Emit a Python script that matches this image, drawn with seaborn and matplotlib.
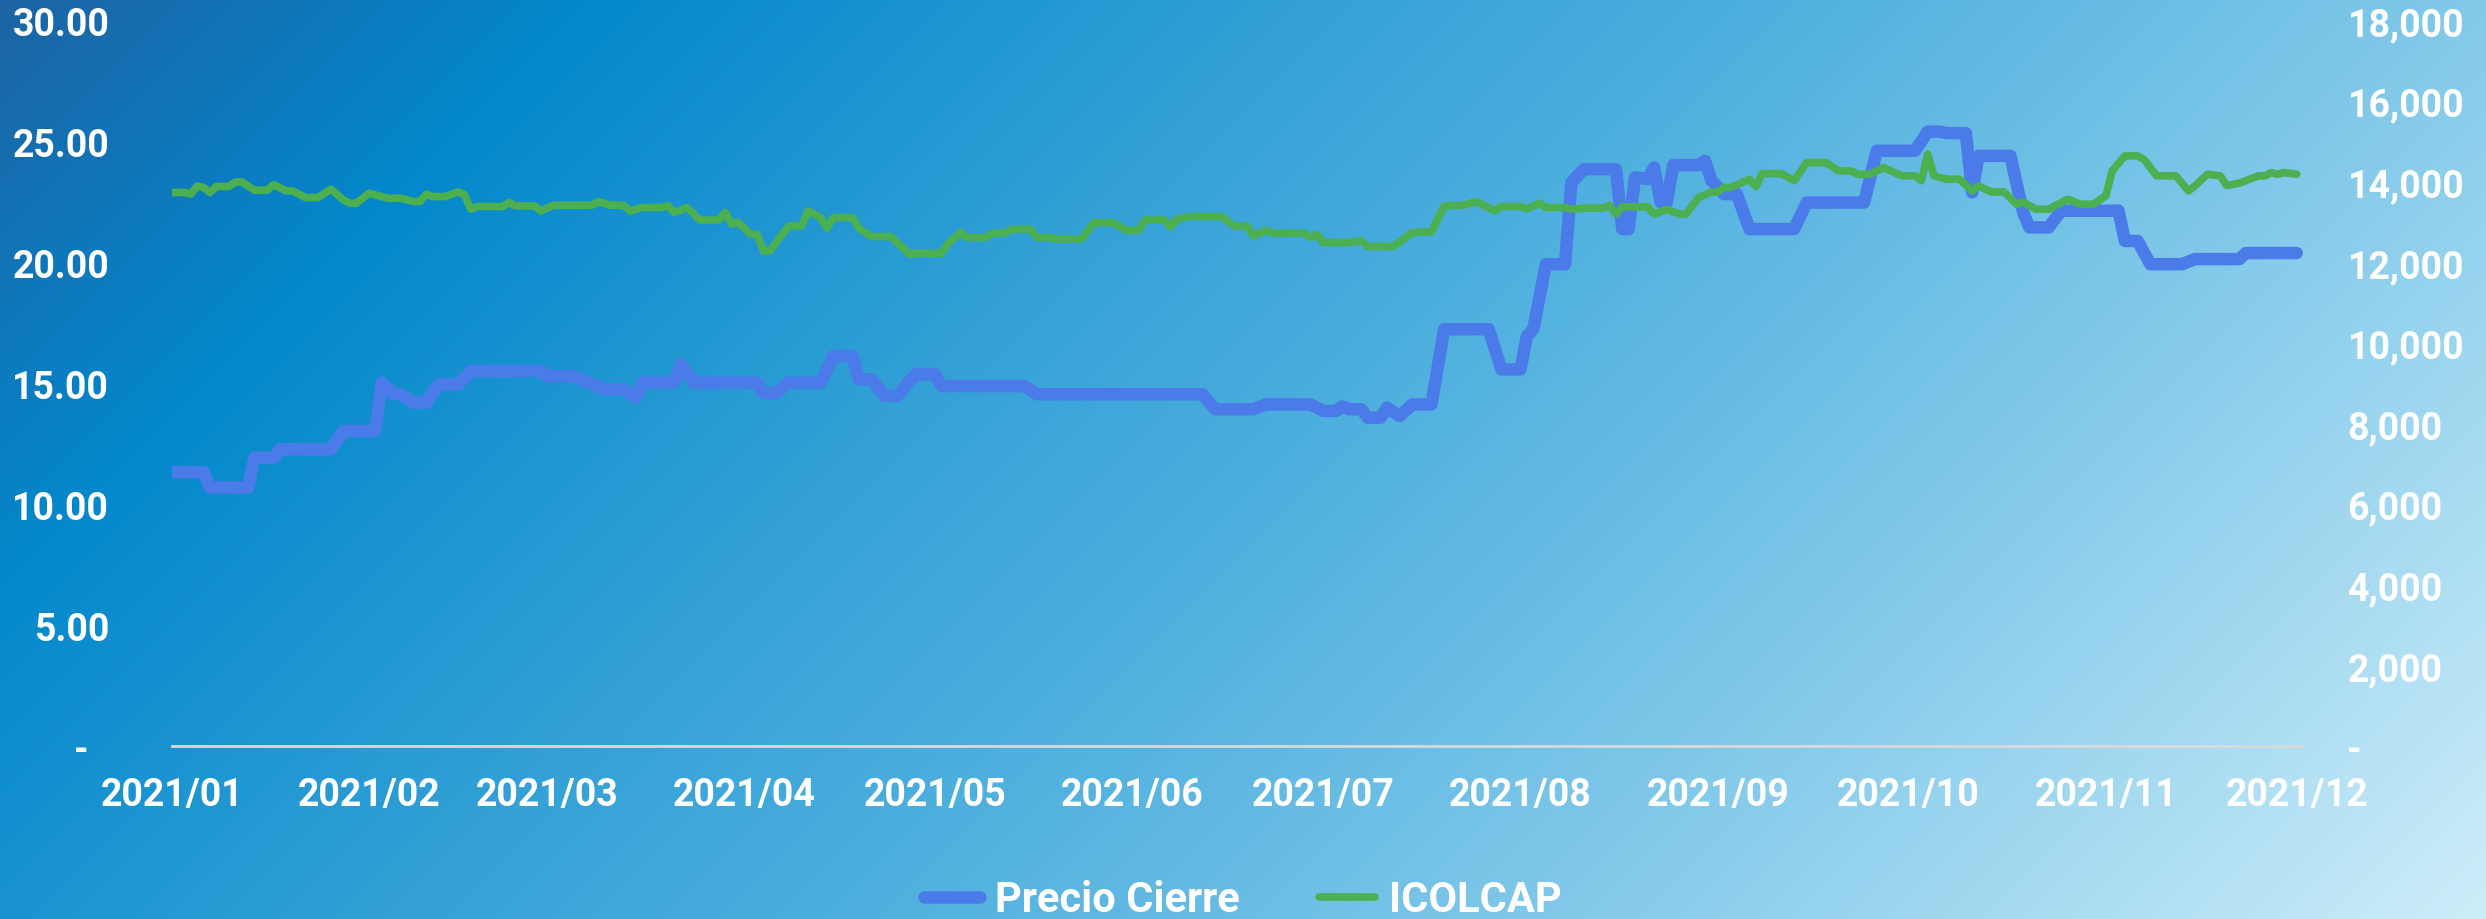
import numpy as np
import pandas as pd
import matplotlib
matplotlib.use('Agg')
import matplotlib.pyplot as plt
import matplotlib.dates as mdates
from matplotlib.colors import LinearSegmentedColormap
from matplotlib.ticker import FuncFormatter, MultipleLocator
from matplotlib.lines import Line2D
import seaborn as sns

# --- datos (dias desde 2021-01-01) ---
inicio = '2021-01-01'

dias_precio = [0, 5, 6, 12, 13, 16, 17, 25, 27, 32, 33, 35, 36, 38, 40, 42, 45, 47, 58, 59,
               63, 68, 71, 73, 74, 79, 80, 82, 92, 93, 95, 97, 102, 104, 107, 108, 110, 112, 114, 116,
               117, 120, 121, 134, 136, 162, 164, 170, 172, 179, 181, 183, 184, 185, 187, 188, 190, 191, 193, 195,
               198, 200, 207, 209, 212, 213, 214, 216, 219, 220, 222, 227, 228, 229, 230, 232, 233, 234, 235, 236,
               240, 241, 242, 244, 246, 248, 255, 257, 266, 268, 274, 276, 278, 279, 282, 283, 284, 289, 291, 292,
               295, 297, 306, 307, 309, 311, 316, 318, 325, 326, 334]
precio_cierre = [11.33, 11.33, 10.69, 10.69, 11.93, 11.93, 12.27, 12.27, 13.03, 13.03, 15.03, 14.55, 14.55, 14.20, 14.20, 14.96, 14.96, 15.51, 15.51, 15.31,
                 15.31, 14.76, 14.76, 14.41, 15.03, 15.03, 15.79, 15.03, 15.03, 14.60, 14.60, 15.03, 15.03, 16.13, 16.13, 15.17, 15.17, 14.48, 14.48, 15.10,
                 15.38, 15.38, 14.89, 14.89, 14.55, 14.55, 13.93, 13.93, 14.13, 14.13, 13.86, 13.86, 14.05, 13.93, 13.93, 13.58, 13.58, 14.00, 13.65, 14.13,
                 14.13, 17.24, 17.24, 15.58, 15.58, 16.96, 17.24, 19.93, 19.93, 23.31, 23.86, 23.86, 21.38, 21.38, 23.52, 23.45, 23.93, 22.50, 22.50, 24.03,
                 24.03, 24.20, 23.40, 22.83, 22.83, 21.38, 21.38, 22.48, 22.48, 24.62, 24.62, 25.41, 25.41, 25.35, 25.35, 22.90, 24.41, 24.41, 22.07, 21.45,
                 21.45, 22.14, 22.14, 20.89, 20.89, 19.93, 19.93, 20.14, 20.14, 20.39, 20.39]

dias_icolcap = [0, 2, 3, 4, 5, 6, 7, 9, 10, 11, 13, 15, 16, 18, 19, 21, 23, 25, 27, 28,
                29, 31, 34, 36, 38, 39, 40, 41, 43, 45, 46, 47, 48, 52, 53, 54, 57, 58, 60, 66,
                67, 69, 71, 72, 74, 77, 78, 79, 81, 83, 86, 87, 88, 89, 91, 92, 93, 94, 95, 97,
                99, 100, 102, 103, 104, 107, 108, 110, 113, 114, 116, 117, 121, 122, 124, 125, 128, 129, 131, 132,
                135, 136, 138, 139, 143, 145, 148, 150, 152, 153, 156, 157, 158, 160, 165, 167, 169, 170, 172, 173,
                178, 179, 180, 181, 185, 187, 188, 192, 195, 198, 200, 203, 205, 208, 209, 212, 213, 215, 216, 219,
                220, 222, 225, 226, 227, 228, 232, 233, 235, 237, 238, 240, 242, 243, 244, 245, 248, 249, 250, 253,
                255, 257, 260, 262, 264, 265, 267, 269, 272, 274, 275, 276, 277, 279, 281, 283, 284, 286, 288, 290,
                291, 293, 295, 298, 300, 302, 304, 305, 307, 309, 310, 311, 312, 315, 317, 318, 320, 322, 323, 325,
                328, 329, 330, 331, 332, 334]
icolcap = [13736, 13736, 13700, 13900, 13860, 13736, 13885, 13885, 14000, 14000, 13793, 13793, 13934, 13776, 13776, 13612, 13612, 13818, 13550, 13470,
           13470, 13718, 13594, 13594, 13512, 13512, 13694, 13636, 13636, 13752, 13680, 13321, 13388, 13388, 13488, 13403, 13403, 13280, 13420, 13420,
           13510, 13420, 13420, 13280, 13363, 13363, 13410, 13240, 13363, 13055, 13055, 13240, 12950, 13000, 12700, 12700, 12287, 12287, 12500, 12907,
           12907, 13280, 13115, 12850, 13115, 13115, 12850, 12643, 12643, 12495, 12204, 12230, 12230, 12470, 12743, 12620, 12620, 12725, 12725, 12825,
           12825, 12620, 12620, 12580, 12580, 12990, 12990, 12800, 12800, 13055, 13055, 12880, 13080, 13140, 13140, 12907, 12907, 12658, 12800, 12725,
           12725, 12620, 12700, 12495, 12495, 12540, 12395, 12395, 12743, 12760, 13403, 13420, 13510, 13280, 13390, 13390, 13330, 13470, 13363, 13363,
           13320, 13350, 13350, 13420, 13200, 13380, 13380, 13200, 13320, 13200, 13200, 13612, 13750, 13750, 13860, 13860, 14066, 13883, 14207, 14207,
           14030, 14480, 14480, 14272, 14272, 14190, 14190, 14355, 14150, 14150, 14030, 14687, 14150, 14066, 14066, 13776, 13900, 13750, 13750, 13445,
           13500, 13322, 13322, 13570, 13445, 13445, 13652, 14272, 14645, 14645, 14560, 14355, 14150, 14150, 13776, 13900, 14190, 14150, 13910, 13970,
           14150, 14150, 14230, 14190, 14230, 14190]

sns.set_style('white')
plt.rcParams['font.family'] = ['Roboto', 'DejaVu Sans']
plt.rcParams['font.weight'] = 'bold'

df_precio = pd.DataFrame({
    'Fecha': pd.Timestamp(inicio) + pd.to_timedelta(dias_precio, unit='D'),
    'Precio Cierre': precio_cierre,
})
df_icolcap = pd.DataFrame({
    'Fecha': pd.Timestamp(inicio) + pd.to_timedelta(dias_icolcap, unit='D'),
    'ICOLCAP': icolcap,
})

azul = '#4a7be8'
verde = '#4caf50'
gris = '#d9d9d9'

fig = plt.figure(figsize=(24.86, 9.2), dpi=100)

# fondo degradado
bg = fig.add_axes([0, 0, 1, 1], zorder=-10)
W, H = 2486, 920
yy, xx = np.mgrid[0:H:4, 0:W:4]
t = (xx + yy) / (W + H)
cmap_bg = LinearSegmentedColormap.from_list('fondo', [
    (0.0, '#1c64a5'), (0.17, '#0388cc'), (0.35, '#2c9dd5'),
    (0.55, '#55b3e0'), (0.75, '#88cceb'), (1.0, '#cdedf9')])
bg.imshow(t, cmap=cmap_bg, vmin=0, vmax=1, aspect='auto', extent=[0, 1, 0, 1], origin='upper')
bg.set_axis_off()

ax = fig.add_axes([0.0691, 0.188, 0.8573, 0.7884])
ax2 = ax.twinx()

sns.lineplot(data=df_precio, x='Fecha', y='Precio Cierre', ax=ax, color=azul, linewidth=9,
             solid_capstyle='round', solid_joinstyle='round')
sns.lineplot(data=df_icolcap, x='Fecha', y='ICOLCAP', ax=ax2, color=verde, linewidth=5.5,
             solid_capstyle='round', solid_joinstyle='round')

for a in (ax, ax2):
    a.patch.set_visible(False)
    a.set_xlabel('')
    a.set_ylabel('')
    for s in a.spines.values():
        s.set_visible(False)

ax.spines['bottom'].set_visible(True)
ax.spines['bottom'].set_color(gris)
ax.spines['bottom'].set_linewidth(2)

ax.set_xlim(pd.Timestamp('2021-01-01'), pd.Timestamp('2021-12-02'))
ax.xaxis.set_major_locator(mdates.MonthLocator())
ax.xaxis.set_major_formatter(mdates.DateFormatter('%Y/%m'))

ax.set_ylim(0, 30)
ax.yaxis.set_major_locator(MultipleLocator(5))
ax.yaxis.set_major_formatter(FuncFormatter(lambda v, p: '-\u2007' if v == 0 else f'{v:.2f}'))
ax2.set_ylim(0, 18000)
ax2.yaxis.set_major_locator(MultipleLocator(2000))
ax2.yaxis.set_major_formatter(FuncFormatter(lambda v, p: '-' if v == 0 else f'{v:,.0f}'))

ax.tick_params(axis='x', length=8.6, width=1.5, color=gris, pad=13, labelsize=27, labelcolor='white')
ax.tick_params(axis='y', length=0, pad=45, labelsize=27, labelcolor='white')
ax2.tick_params(axis='y', length=0, pad=32, labelsize=27, labelcolor='white')

handles = [Line2D([], [], color=azul, linewidth=9, solid_capstyle='round'),
           Line2D([], [], color=verde, linewidth=5.5, solid_capstyle='round')]
fig.legend(handles, ['Precio Cierre', 'ICOLCAP'], loc='center', bbox_to_anchor=(0.5, 19 / 920),
           ncol=2, frameon=False, fontsize=30, labelcolor='white',
           handlelength=1.35, handletextpad=0.35, columnspacing=1.9)

fig.savefig('out.png', dpi=100)
